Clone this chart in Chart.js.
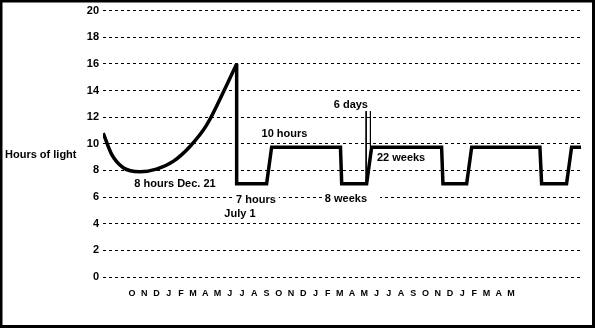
<!DOCTYPE html>
<html><head><meta charset="utf-8">
<script src="https://cdn.jsdelivr.net/npm/chart.js@4/dist/chart.umd.min.js"></script>
<style>html,body{margin:0;padding:0;background:#fff}#wrap{width:595px;height:328px}</style>
</head><body><div id="wrap"><canvas id="c" width="595" height="328"></canvas></div>
<script>
// Month tick labels (one per month, starting at October)
const monthLabels = ['O','N','D','J','F','M','A','M','J','J','A','S','O','N','D','J','F','M','A','M','J','J','A','S','O','N','D','J','F','M','A','M'];
const yTickValues = [0,2,4,6,8,10,12,14,16,18,20];

// Natural daylength curve (x in months from October, y in hours of light)
const curveX = [-2.35, -1.66, -0.71, 0.65, 2.0, 3.4, 4.74, 6.1, 7.74, 8.56];
const curveY = [10.8, 9.2, 8.2, 7.9, 8.1, 8.7, 9.8, 11.4, 14.4, 16];

// Artificial light schedule (square pulses)
const pulseX = [8.56, 8.56, 11.01, 11.42, 17.05, 17.15, 19.19, 19.6, 25.32, 25.43, 27.37, 27.78, 33.36, 33.5, 35.54, 35.95, 36.72];
const pulseY = [16, 7, 7, 9.75, 9.75, 7, 7, 9.75, 9.75, 7, 7, 9.75, 9.75, 7, 7, 9.75, 9.75];

// "6 days" marker lines
const markAX = [19.15, 19.15];
const markAY = [12.45, 7];
const markBX = [19.5, 19.5];
const markBY = [12.45, 9.75];

// Annotation texts anchored in data units
const noteTexts = ['8 hours Dec. 21', '7 hours', 'July 1', '10 hours', '8 weeks', '6 days', '22 weeks'];
const noteX = [3.52, 10.14, 8.83, 12.47, 17.5, 17.9, 20.03];
const noteY = [6.99, 5.8, 4.76, 10.71, 5.87, 12.94, 8.96];
const yTitle = 'Hours of light';
const yTitleValue = 9.15;

const toPts = (xs, ys) => xs.map((x, i) => ({x, y: ys[i]}));
const FONT = '"Liberation Sans", Arial, sans-serif';

const deco = {
  id: 'deco',
  beforeDraw(chart) {
    const ctx = chart.ctx;
    ctx.save(); ctx.fillStyle = '#fff'; ctx.fillRect(0, 0, chart.width, chart.height); ctx.restore();
  },
  afterDatasetsDraw(chart) {
    const ctx = chart.ctx, xs = chart.scales.x, ys = chart.scales.y;
    ctx.save();
    ctx.font = 'bold 11px ' + FONT;
    ctx.textBaseline = 'middle';
    noteTexts.forEach((t, i) => {
      const align = t === '22 weeks' ? 'left' : 'center';
      const px = xs.getPixelForValue(noteX[i]);
      const py = ys.getPixelForValue(noteY[i]);
      const w = ctx.measureText(t).width;
      const left = align === 'left' ? px : px - w / 2;
      if (t === '7 hours' || t === '8 weeks') {
        ctx.fillStyle = '#fff';
        ctx.fillRect(left - 3, py - 6, w + (t === '8 weeks' ? 16 : 6), 12);
      }
      ctx.fillStyle = '#000';
      ctx.textAlign = align;
      ctx.fillText(t, px, py);
    });
    ctx.textAlign = 'left';
    ctx.fillText(yTitle, 5, ys.getPixelForValue(yTitleValue));
    ctx.restore();
  },
  afterDraw(chart) {
    const ctx = chart.ctx;
    ctx.save();
    ctx.strokeStyle = '#000'; ctx.lineWidth = 3;
    ctx.strokeRect(1, 1, chart.width - 2.5, chart.height - 2.5);
    ctx.restore();
  }
};

new Chart(document.getElementById('c'), {
  type: 'line',
  data: {
    datasets: [
      {data: toPts(curveX, curveY), borderColor: '#000', borderWidth: 3.5, pointRadius: 0, cubicInterpolationMode: 'monotone', fill: false},
      {data: toPts(pulseX, pulseY), borderColor: '#000', borderWidth: 3.5, pointRadius: 0, tension: 0, borderJoinStyle: 'miter', fill: false},
      {data: toPts(markAX, markAY), borderColor: '#000', borderWidth: 1, pointRadius: 0, tension: 0, fill: false},
      {data: toPts(markBX, markBY), borderColor: '#000', borderWidth: 1, pointRadius: 0, tension: 0, fill: false}
    ]
  },
  options: {
    responsive: false,
    animation: false,
    devicePixelRatio: 1,
    layout: {padding: {top: 8, left: 0, right: 14, bottom: 0}},
    plugins: {legend: {display: false}, tooltip: {enabled: false}},
    scales: {
      x: {
        type: 'linear',
        min: -2.37,
        max: 36.72,
        grid: {display: false, drawTicks: false},
        border: {display: false},
        afterFit(s) { s.height = 51; },
        afterBuildTicks(s) { s.ticks = monthLabels.map((m, i) => ({value: i})); },
        ticks: {
          autoSkip: false, maxRotation: 0, padding: 11, color: '#000',
          font: {family: FONT, size: 9, weight: 'bold'},
          callback: (v) => monthLabels[v] ?? ''
        }
      },
      y: {
        min: 0, max: 20,
        afterFit(s) { s.width = 103; },
        afterBuildTicks(s) { s.ticks = yTickValues.map(v => ({value: v})); },
        grid: {color: '#000', lineWidth: 1, drawTicks: false},
        border: {display: false, dash: [3, 3]},
        ticks: {padding: 4, color: '#000', font: {family: FONT, size: 11, weight: 'bold'}}
      }
    }
  },
  plugins: [deco]
});
</script></body></html>
